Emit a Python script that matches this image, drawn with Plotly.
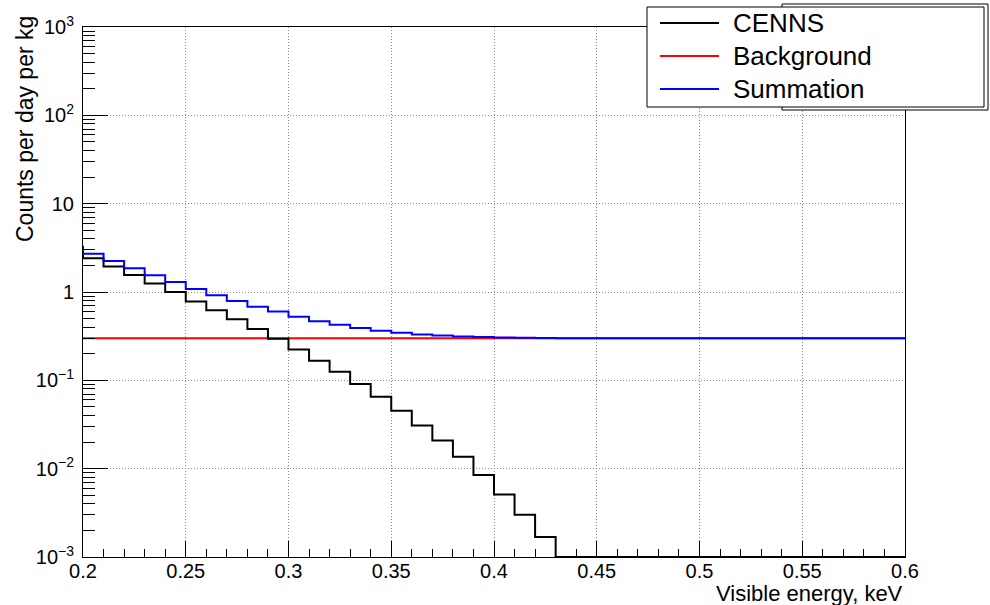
import numpy as np
import plotly.graph_objects as go

# Bin edges (keV): 0.01 keV bins from 0.19 to 0.60
BIN_LOW = [round(0.19 + 0.01 * i, 2) for i in range(41)]
BIN_HIGH_LAST = 0.60

# Counts per day per kg in each bin
CENNS = [2.95, 2.41, 1.94, 1.56, 1.25, 1.00, 0.78, 0.62, 0.49, 0.38,
         0.296, 0.224, 0.167, 0.125, 0.091, 0.065, 0.0453, 0.0309, 0.0209, 0.0136,
         0.0085, 0.0051, 0.0030, 0.00168, 0.0, 0.0, 0.0, 0.0, 0.0, 0.0,
         0.0, 0.0, 0.0, 0.0, 0.0, 0.0, 0.0, 0.0, 0.0, 0.0, 0.0]
BACKGROUND = [0.30, 0.30, 0.30, 0.30, 0.30, 0.30, 0.30, 0.30, 0.30, 0.30,
              0.30, 0.30, 0.30, 0.30, 0.30, 0.30, 0.30, 0.30, 0.30, 0.30,
              0.30, 0.30, 0.30, 0.30, 0.30, 0.30, 0.30, 0.30, 0.30, 0.30,
              0.30, 0.30, 0.30, 0.30, 0.30, 0.30, 0.30, 0.30, 0.30, 0.30, 0.30]
SUMMATION = [3.25, 2.71, 2.24, 1.86, 1.55, 1.30, 1.08, 0.92, 0.79, 0.68,
             0.60, 0.524, 0.467, 0.425, 0.391, 0.365, 0.345, 0.331, 0.321, 0.314,
             0.309, 0.305, 0.303, 0.302, 0.30, 0.30, 0.30, 0.30, 0.30, 0.30,
             0.30, 0.30, 0.30, 0.30, 0.30, 0.30, 0.30, 0.30, 0.30, 0.30, 0.30]

X_RANGE = [0.2, 0.6]
Y_MIN, Y_MAX = 1e-3, 1e3
X_TICKS = [0.2, 0.25, 0.3, 0.35, 0.4, 0.45, 0.5, 0.55, 0.6]
X_TICK_TEXT = ["0.2", "0.25", "0.3", "0.35", "0.4", "0.45", "0.5", "0.55", "0.6"]
Y_TICKS = [1e-3, 1e-2, 1e-1, 1, 10, 1e2, 1e3]
Y_TICK_TEXT = ["10<sup>\u22123</sup>", "10<sup>\u22122</sup>", "10<sup>\u22121</sup>",
               "1", "10", "10<sup>2</sup>", "10<sup>3</sup>"]

SERIES = [("CENNS", CENNS, "black"),
          ("Background", BACKGROUND, "#ff0000"),
          ("Summation", SUMMATION, "#0000ff")]

FONT = "Liberation Sans, Arial, sans-serif"


def step_xy(values):
    # histogram outline: each bin level held from its low edge to the next edge;
    # empty bins sit on the axis floor as in a ROOT log plot
    x = list(BIN_LOW) + [BIN_HIGH_LAST]
    v = np.maximum(np.asarray(values, dtype=float), Y_MIN)
    y = list(v) + [v[-1]]
    return x, y


fig = go.Figure()
# draw order: background first, then CENNS, then summation on top
for idx in (1, 0, 2):
    name, vals, col = SERIES[idx]
    x, y = step_xy(vals)
    fig.add_trace(go.Scatter(x=x, y=y, mode="lines", name=name,
                             line=dict(color=col, width=2, shape="hv"),
                             showlegend=False, hoverinfo="skip"))

L, R, T, B = 83, 85, 27, 48
W, H = 990, 605
PW, PH = W - L - R, H - T - B


def px(xp):
    return (xp - L) / PW


def py(yp):
    return (H - B - yp) / PH


GRID = dict(showgrid=True, gridcolor="#8c8c8c", griddash="1px,2px", gridwidth=1)

fig.update_layout(
    width=W, height=H,
    margin=dict(l=L, r=R, t=T, b=B, pad=0),
    paper_bgcolor="white", plot_bgcolor="white",
    font=dict(family=FONT, color="black", size=20),
    showlegend=False,
    xaxis=dict(range=X_RANGE, showline=True, linecolor="black", linewidth=1,
               mirror=True, ticks="inside", ticklen=16, tickwidth=1, tickcolor="black",
               tickvals=X_TICKS, ticktext=X_TICK_TEXT, **GRID,
               zeroline=False, tickfont=dict(size=20), ticklabelstandoff=-4,
               minor=dict(ticks="inside", ticklen=8, tickcolor="black", dtick=0.01,
                          showgrid=False)),
    yaxis=dict(type="log", range=[np.log10(Y_MIN), np.log10(Y_MAX)],
               showline=True, linecolor="black", linewidth=1, mirror=True,
               ticks="inside", ticklen=25, tickwidth=1, tickcolor="black",
               tickvals=Y_TICKS, ticktext=Y_TICK_TEXT, **GRID,
               zeroline=False, tickfont=dict(size=20), ticklabelstandoff=4,
               minor=dict(ticks="inside", ticklen=12, tickcolor="black",
                          dtick="D1", showgrid=False)),
)

# axis titles, aligned to the far ends of the axes
fig.add_annotation(text="Visible energy, keV", xref="paper", yref="paper",
                   x=1, y=py(593), xanchor="right", yanchor="middle",
                   showarrow=False, font=dict(size=22))
fig.add_annotation(text="Counts per day per kg", xref="paper", yref="paper",
                   x=px(25), y=py(14), xanchor="center", yanchor="top",
                   textangle=-90, showarrow=False, font=dict(size=23))

# legend panes
shapes = [
    dict(type="rect", xref="paper", yref="paper", x0=px(782), x1=px(988),
         y0=py(110), y1=py(4), line=dict(color="black", width=1),
         fillcolor="white", layer="above"),
    dict(type="rect", xref="paper", yref="paper", x0=px(647), x1=px(984),
         y0=py(107), y1=py(7), line=dict(color="black", width=1),
         fillcolor="white", layer="above"),
]
row_y = [23, 56, 89]
for (name, _, col), ry in zip(SERIES, row_y):
    shapes.append(dict(type="line", xref="paper", yref="paper",
                       x0=px(660), x1=px(719), y0=py(ry), y1=py(ry),
                       line=dict(color=col, width=2), layer="above"))
    fig.add_annotation(text=name, xref="paper", yref="paper",
                       x=px(731), y=py(ry), xanchor="left", yanchor="middle",
                       showarrow=False, font=dict(size=26))
fig.update_layout(shapes=shapes)

fig.write_html("out.html")
